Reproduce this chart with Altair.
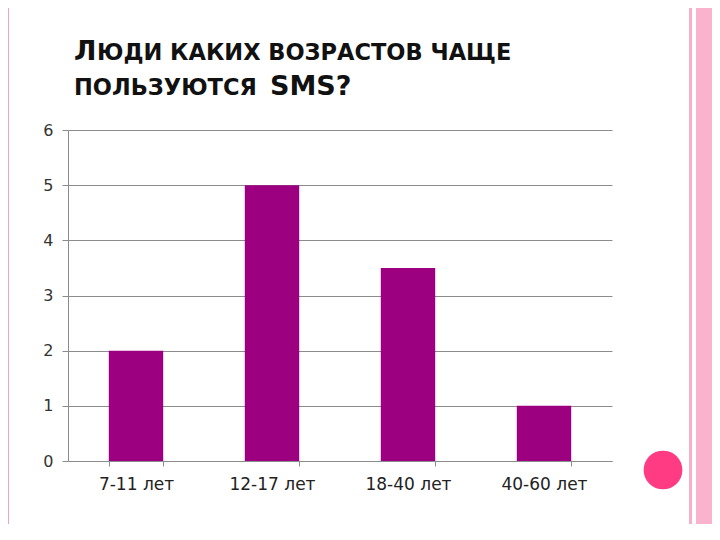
import altair as alt
import pandas as pd

# ---- data ----
categories = ["7-11 лет", "12-17 лет", "18-40 лет", "40-60 лет"]
values = [2, 5, 3.5, 1]
y_ticks = [0, 1, 2, 3, 4, 5, 6]
title_line1 = ["Л", "ЮДИ КАКИХ ВОЗРАСТОВ ЧАЩЕ"]
title_line2 = ["ПОЛЬЗУЮТСЯ", "SMS?"]

df = pd.DataFrame({"age": categories, "count": values})

# ---- layout ----
W, H = 544, 331
PL, PT = 60, 122
TOTAL_W, TOTAL_H = 704, 516
FONT = "DejaVu Sans"


def X(px):
    return px - 8 - PL


def Y(py):
    return py - 8 - PT


one = alt.Data(values=[{"a": 1}])

bars = alt.Chart(df).mark_bar(color="#9C0080").encode(
    x=alt.X(
        "age:N",
        sort=categories,
        scale=alt.Scale(paddingInner=0.6, paddingOuter=0.3),
        axis=alt.Axis(
            title=None,
            labelAngle=0,
            tickBand="extent",
            grid=False,
            domainColor="#8C8C8C",
            tickColor="#8C8C8C",
            tickSize=5,
            labelPadding=10,
            labelFont=FONT,
            labelFontSize=17,
            labelColor="#222222",
        ),
    ),
    y=alt.Y(
        "count:Q",
        scale=alt.Scale(domain=[0, 6], nice=False),
        axis=alt.Axis(
            title=None,
            values=y_ticks,
            grid=True,
            gridColor="#8C8C8C",
            domainColor="#8C8C8C",
            tickColor="#8C8C8C",
            tickSize=6,
            labelPadding=9,
            labelFont=FONT,
            labelFontSize=16,
            labelColor="#333333",
        ),
    ),
)


def rect(x1, x2, color):
    return alt.Chart(one).mark_rect(color=color).encode(
        x=alt.value(X(x1)), x2=alt.value(X(x2)),
        y=alt.value(Y(0)), y2=alt.value(Y(560)),
    )


stripes = [
    rect(0, 2, "#FBD6E3"),
    rect(2, 9, "#F3A5C0"),
    rect(689, 692, "#F6B1C9"),
    rect(696, 720, "#F9B3CC"),
]

circle = alt.Chart(one).mark_circle(size=1500, color="#FF3B84", opacity=1).encode(
    x=alt.value(X(663)), y=alt.value(Y(470))
)


def txt(s, px, py, size):
    return alt.Chart(one).mark_text(
        align="left", baseline="alphabetic", font=FONT, fontWeight="bold",
        fontSize=size, color="#111111",
    ).encode(x=alt.value(X(px)), y=alt.value(Y(py)), text=alt.value(s))


titles = [
    txt(title_line1[0], 74, 60, 27),
    txt(title_line1[1], 97, 60, 22.5),
    txt(title_line2[0], 74, 95, 22.5),
    txt(title_line2[1], 270, 95, 27),
]

chart = alt.layer(*stripes, circle, bars, *titles).properties(
    width=W,
    height=H,
    padding={"left": PL, "top": PT, "right": TOTAL_W - PL - W, "bottom": TOTAL_H - PT - H},
    autosize=alt.AutoSizeParams(type="none"),
    background="white",
).configure_view(stroke=None)

chart.save("out.html", embed_options={"renderer": "svg", "actions": False})
